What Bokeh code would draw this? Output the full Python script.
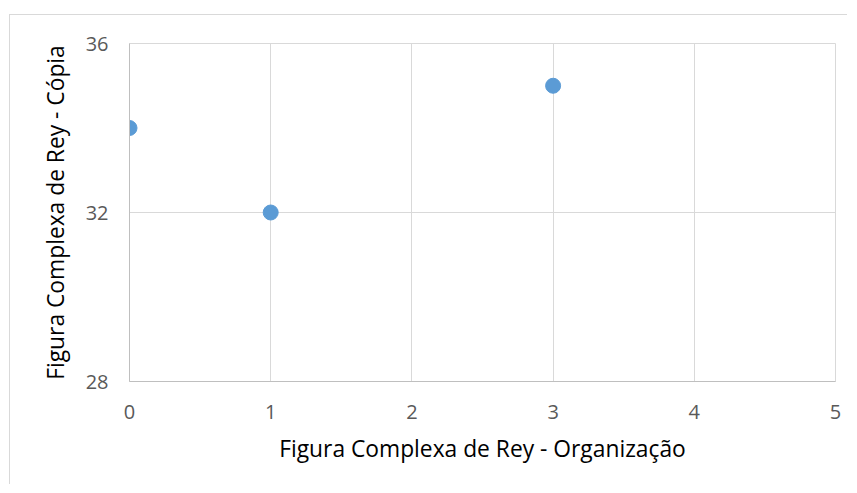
from bokeh.plotting import figure
from bokeh.models import Range1d, FixedTicker
from bokeh.embed import file_html
from bokeh.resources import INLINE

x_vals = [0, 1, 3]
y_vals = [34, 32, 35]
x_ticks = [0, 1, 2, 3, 4, 5]
y_ticks = [28, 32, 36]
x_title = "Figura Complexa de Rey - Organização"
y_title = "Figura Complexa de Rey - Cópia"

FONT = "Open Sans"

p = figure(width=838, height=470, output_backend="svg", toolbar_location=None,
           x_range=Range1d(0, 5), y_range=Range1d(28, 36),
           min_border_left=119, min_border_top=28, min_border_right=13, min_border_bottom=104,
           margin=(14, 0, 0, 9),
           styles={"border-top": "1px solid #d9d9d9", "border-left": "1px solid #d9d9d9"})

p.outline_line_color = "#d9d9d9"
p.background_fill_color = "white"
p.border_fill_color = "white"

p.xaxis.ticker = FixedTicker(ticks=x_ticks)
p.yaxis.ticker = FixedTicker(ticks=y_ticks)
p.xgrid.ticker = FixedTicker(ticks=x_ticks)
p.ygrid.ticker = FixedTicker(ticks=y_ticks)
for g in (p.xgrid, p.ygrid):
    g.grid_line_color = "#d9d9d9"
    g.grid_line_width = 1

for ax in (p.xaxis, p.yaxis):
    ax.axis_line_color = "#bfbfbf"
    ax.axis_line_width = 1
    ax.major_tick_line_color = None
    ax.minor_tick_line_color = None
    ax.major_tick_out = 0
    ax.major_tick_in = 0
    ax.minor_tick_out = 0
    ax.major_label_text_font = FONT
    ax.major_label_text_font_size = "20px"
    ax.major_label_text_color = "#595959"
    ax.axis_label_text_font = FONT
    ax.axis_label_text_font_size = "22.8px"
    ax.axis_label_text_font_style = "normal"
    ax.axis_label_text_color = "#000000"

p.xaxis.axis_label = x_title
p.yaxis.axis_label = y_title
p.xaxis.major_label_standoff = 23
p.yaxis.major_label_standoff = 21
p.xaxis.axis_label_standoff = 11
p.yaxis.axis_label_standoff = 12

p.scatter(x_vals, y_vals, size=15, fill_color="#5b9bd5", line_color="#5b9bd5")

open("out.html", "w").write(file_html(p, INLINE))
